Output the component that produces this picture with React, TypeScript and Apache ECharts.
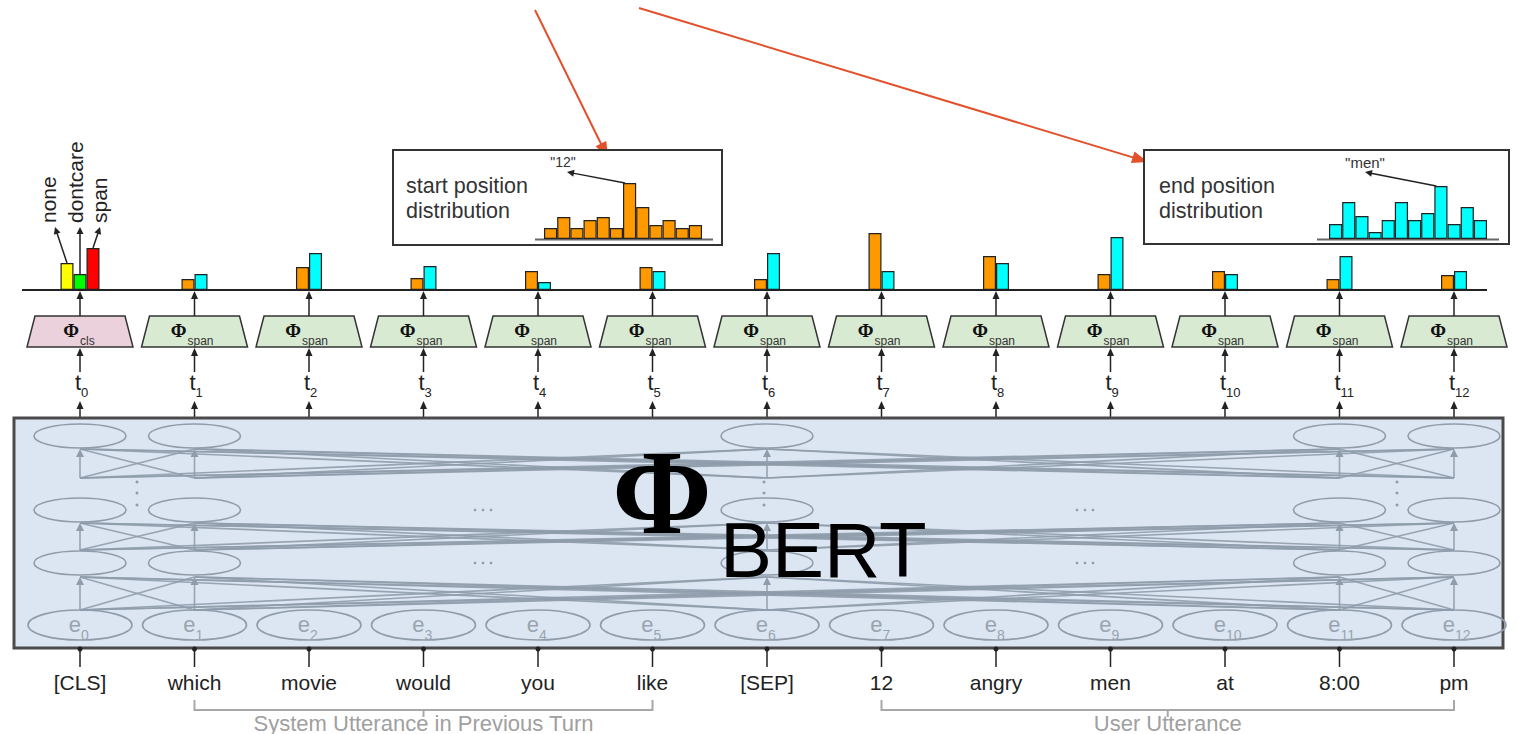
import React, { useEffect, useRef } from "react";
import * as echarts from "echarts";

// ---------------- data ----------------
const tokens = ["[CLS]", "which", "movie", "would", "you", "like", "[SEP]", "12", "angry", "men", "at", "8:00", "pm"];
const clsClasses = ["none", "dontcare", "span"];
const clsValues = [27, 16, 42];
const startProbs = [null, 11, 23, 12, 19, 23, 11, 57, 34, 16, 19, 11, 15];
const endProbs = [null, 16, 37, 24, 8, 19, 37, 19, 27, 53, 16, 34, 19];
const startDist = [11, 22, 11, 19, 22, 11, 56, 32, 14, 19, 11, 14];
const endDist = [15, 37, 23, 7, 19, 37, 19, 26, 53, 15, 32, 19];
const startPeakLabel = '"12"';
const endPeakLabel = '"men"';
const startBoxText = ["start position", "distribution"];
const endBoxText = ["end position", "distribution"];
const segments = [
  { label: "System Utterance in Previous Turn", from: 1, to: 5 },
  { label: "User Utterance", from: 7, to: 12 },
];
const shownColumns = [0, 1, 6, 11, 12];

// ---------------- layout / style ----------------
const W = 1519;
const H = 734;
const COL_LEFT = 22.75;
const COL_STEP = 114.5;
const cx = (i: number) => COL_LEFT + COL_STEP * (i + 0.5);
const BASE_Y = 290;
const BAR_AREA = 60;
const HIST_BASE = 239;
const HIST_W = 158;
const START_LEFT = 544;
const END_LEFT = 1329;
const SANS = "Liberation Sans, Arial, sans-serif";
const SERIF = "Liberation Serif, Times New Roman, serif";
const GRAY = "#8f9cab";
const RED = "#e2502c";

function arrow(x1: number, y1: number, x2: number, y2: number, color: string, width: number, len: number, half: number) {
  const dx = x2 - x1, dy = y2 - y1, L = Math.hypot(dx, dy);
  const ux = dx / L, uy = dy / L;
  const bx = x2 - ux * len, by = y2 - uy * len;
  return [
    { type: "line", silent: true, shape: { x1, y1, x2: bx + ux, y2: by + uy }, style: { stroke: color, lineWidth: width } },
    {
      type: "polygon",
      silent: true,
      shape: { points: [[x2, y2], [bx - uy * half, by + ux * half], [bx + uy * half, by - ux * half]] },
      style: { fill: color },
    },
  ];
}

function txt(text: string, x: number, y: number, size: number, o: any = {}) {
  const align = o.align || "center";
  return {
    type: "text",
    x,
    y,
    silent: true,
    rotation: o.rotation || 0,
    scaleX: o.scaleX || 1,
    style: {
      text,
      fontSize: size,
      fontFamily: o.family || SANS,
      fontWeight: o.weight || "normal",
      fill: o.color || "#222",
      align,
      textAlign: align,
      verticalAlign: "middle",
      textVerticalAlign: "middle",
    },
  };
}

function buildGraphics() {
  const g: any[] = [];
  // red pointer arrows at top
  g.push(...arrow(535, 10, 608, 158, RED, 2, 16, 6));
  g.push(...arrow(639, 8, 1148, 162, RED, 2, 16, 6));

  // distribution boxes
  g.push({ type: "rect", silent: true, shape: { x: 393, y: 150, width: 329, height: 95 }, style: { fill: "#fff", stroke: "#333", lineWidth: 2 } });
  g.push({ type: "rect", silent: true, shape: { x: 1144, y: 150, width: 365, height: 94 }, style: { fill: "#fff", stroke: "#333", lineWidth: 2 } });
  g.push(txt(startBoxText[0], 406, 186, 21.5, { align: "left", color: "#333" }));
  g.push(txt(startBoxText[1], 406, 211, 21.5, { align: "left", color: "#333" }));
  g.push(txt(endBoxText[0], 1159, 186, 21.5, { align: "left", color: "#333" }));
  g.push(txt(endBoxText[1], 1159, 211, 21.5, { align: "left", color: "#333" }));
  g.push({ type: "line", silent: true, shape: { x1: 535, y1: HIST_BASE + 0.5, x2: 713, y2: HIST_BASE + 0.5 }, style: { stroke: "#666", lineWidth: 2 } });
  g.push({ type: "line", silent: true, shape: { x1: 1317, y1: HIST_BASE + 0.5, x2: 1499, y2: HIST_BASE + 0.5 }, style: { stroke: "#666", lineWidth: 2 } });

  // peak pointers (derived from data)
  const bw = HIST_W / startDist.length;
  const sIdx = startDist.indexOf(Math.max(...startDist));
  const sx = START_LEFT + (sIdx + 0.15) * bw;
  const sy = HIST_BASE - startDist[sIdx] * (BAR_AREA / 60);
  g.push(...arrow(sx, sy, 567, 172, "#222", 1.5, 7, 3.5));
  g.push(txt(startPeakLabel, 563, 162, 14, { color: "#333" }));
  const eIdx = endDist.indexOf(Math.max(...endDist));
  const ex = END_LEFT + (eIdx + 0.15) * bw;
  const ey = HIST_BASE - endDist[eIdx] * (BAR_AREA / 60);
  g.push(...arrow(ex, ey, 1365, 172, "#222", 1.5, 7, 3.5));
  g.push(txt(endPeakLabel, 1365, 162, 15, { color: "#333" }));

  // main baseline
  g.push({ type: "line", silent: true, shape: { x1: 22, y1: BASE_Y, x2: 1487, y2: BASE_Y }, style: { stroke: "#222", lineWidth: 2 } });

  // CLS class labels + arrows
  const labelX = [48, 75, 99];
  const tipX = [55, 80, 100];
  clsClasses.forEach((c, k) => {
    const bx = cx(0) + (k - 1) * 13;
    const by = BASE_Y - clsValues[k];
    g.push(...arrow(bx, by, tipX[k], 227, "#222", 1.5, 7, 3.5));
    g.push(txt(c, labelX[k], 223, 21, { align: "left", rotation: Math.PI / 2, color: "#222" }));
  });

  // phi heads, arrows, t labels
  tokens.forEach((_, i) => {
    const x = cx(i);
    const isCls = i === 0;
    g.push({
      type: "polygon",
      silent: true,
      shape: { points: [[x - 45, 316], [x + 45, 316], [x + 53, 347], [x - 53, 347]] },
      style: { fill: isCls ? "#ead1dc" : "#d9ead3", stroke: "#333", lineWidth: 1.5 },
    });
    g.push(txt("Φ", isCls ? x - 9 : x - 16, 330, 19, { family: SERIF, weight: "bold", color: "#111" }));
    g.push(txt(isCls ? "cls" : "span", isCls ? x : x - 7, 341, 12, { align: "left", color: "#333" }));
    g.push(...arrow(x, 316, x, 291, "#222", 1.5, 8, 3.5));
    g.push(...arrow(x, 372, x, 348, "#222", 1.5, 8, 3.5));
    g.push(...arrow(x, 418, x, 401, "#222", 1.5, 8, 3.5));
    g.push(txt("t", x + 1, 382, 22, { align: "right", color: "#222" }));
    g.push(txt(String(i), x + 1, 392, 13, { align: "left", color: "#222" }));
  });

  // BERT box
  g.push({ type: "rect", silent: true, shape: { x: 14, y: 418, width: 1489, height: 230 }, style: { fill: "#dce6f2", stroke: "#4a4a4a", lineWidth: 3 } });

  // layer connections
  const layers = [
    { low: 610, high: 577 },
    { low: 550, high: 523 },
    { low: 478, high: 449 },
  ];
  layers.forEach((ly) => {
    shownColumns.forEach((a) => {
      shownColumns.forEach((b) => {
        g.push({
          type: "line",
          silent: true,
          shape: { x1: cx(a), y1: ly.low, x2: cx(b), y2: ly.high + (a === b ? 6 : 0) },
          style: { stroke: GRAY, lineWidth: 1.6, opacity: 0.9 },
        });
      });
    });
    shownColumns.forEach((b) => {
      g.push({ type: "polygon", silent: true, shape: { points: [[cx(b), ly.high], [cx(b) - 4, ly.high + 8], [cx(b) + 4, ly.high + 8]] }, style: { fill: GRAY } });
    });
  });

  // ellipses
  [436, 510, 563].forEach((y) => {
    shownColumns.forEach((c) => {
      g.push({ type: "ellipse", silent: true, shape: { cx: cx(c), cy: y, rx: 46, ry: 12 }, style: { fill: "none", stroke: GRAY, lineWidth: 1.6 } });
    });
  });
  tokens.forEach((_, i) => {
    g.push({ type: "ellipse", silent: true, shape: { cx: cx(i), cy: 625, rx: 52, ry: 15 }, style: { fill: "none", stroke: GRAY, lineWidth: 1.6 } });
    g.push(txt("e", cx(i) + 1, 624, 22, { align: "right", color: "#98a4b0" }));
    g.push(txt(String(i), cx(i) + 1, 635, 14, { align: "left", color: "#98a4b0" }));
  });

  // ellipsis dots
  [137, 764, 1397].forEach((x) => {
    [482, 493, 505].forEach((y) => g.push({ type: "circle", silent: true, shape: { cx: x, cy: y, r: 1.5 }, style: { fill: GRAY } }));
  });
  [510, 563].forEach((y) => {
    [483, 1085].forEach((x) => {
      [-8, 0, 8].forEach((d) => g.push({ type: "circle", silent: true, shape: { cx: x + d, cy: y, r: 1.3 }, style: { fill: GRAY } }));
    });
  });

  // Φ BERT title
  g.push(txt("Φ", 662, 492, 120, { family: SERIF, weight: "bold", color: "#000" }));
  g.push(txt("BERT", 720, 550, 78, { align: "left", color: "#000" }));

  // token ticks and labels
  tokens.forEach((t, i) => {
    const x = cx(i);
    g.push({ type: "line", silent: true, shape: { x1: x, y1: 649, x2: x, y2: 667 }, style: { stroke: "#222", lineWidth: 1.5 } });
    g.push({ type: "circle", silent: true, shape: { cx: x, cy: 649, r: 2.5 }, style: { fill: "#222" } });
    g.push(txt(t, x, 682, 21, { color: "#222" }));
  });

  // brackets
  segments.forEach((s) => {
    const x1 = cx(s.from), x2 = cx(s.to), mid = (x1 + x2) / 2;
    g.push({ type: "polyline", silent: true, shape: { points: [[x1, 700], [x1, 710], [x2, 710], [x2, 700]] }, style: { stroke: "#a8a8a8", lineWidth: 2, fill: "none" } });
    g.push({ type: "line", silent: true, shape: { x1: mid, y1: 710, x2: mid, y2: 717 }, style: { stroke: "#a8a8a8", lineWidth: 2 } });
    g.push(txt(s.label, mid, 723, 22, { color: "#a0a0a0" }));
  });
  return g;
}

function buildOption(): any {
  const histCats = startDist.map((_, i) => String(i + 1));
  const barStyle = (color: string) => ({ color, borderColor: "#222", borderWidth: 1.2 });
  const clsColors = ["#ffff00", "#00ff00", "#ff0000"];
  return {
    animation: false,
    backgroundColor: "#fff",
    grid: [
      { left: COL_LEFT, width: COL_STEP * tokens.length, top: BASE_Y - BAR_AREA, height: BAR_AREA },
      { left: START_LEFT, width: HIST_W, top: HIST_BASE - BAR_AREA, height: BAR_AREA },
      { left: END_LEFT, width: HIST_W, top: HIST_BASE - BAR_AREA, height: BAR_AREA },
    ],
    xAxis: [
      { type: "category", gridIndex: 0, data: tokens, show: false },
      { type: "category", gridIndex: 0, data: tokens, show: false },
      { type: "category", gridIndex: 1, data: histCats, show: false },
      { type: "category", gridIndex: 2, data: histCats, show: false },
    ],
    yAxis: [
      { type: "value", gridIndex: 0, min: 0, max: 60, show: false },
      { type: "value", gridIndex: 1, min: 0, max: 60, show: false },
      { type: "value", gridIndex: 2, min: 0, max: 60, show: false },
    ],
    series: [
      { name: "start", type: "bar", xAxisIndex: 0, yAxisIndex: 0, data: startProbs, barWidth: 13, barGap: "0%", itemStyle: barStyle("#ff9900"), silent: true },
      { name: "end", type: "bar", xAxisIndex: 0, yAxisIndex: 0, data: endProbs, barWidth: 13, barGap: "0%", itemStyle: barStyle("#00ffff"), silent: true },
      ...clsClasses.map((c, k) => ({
        name: c,
        type: "bar",
        xAxisIndex: 1,
        yAxisIndex: 0,
        data: tokens.map((_, i) => (i === 0 ? clsValues[k] : null)),
        barWidth: 13,
        barGap: "0%",
        itemStyle: barStyle(clsColors[k]),
        silent: true,
      })),
      { name: "start dist", type: "bar", xAxisIndex: 2, yAxisIndex: 1, data: startDist, barCategoryGap: "0%", itemStyle: barStyle("#ff9900"), silent: true },
      { name: "end dist", type: "bar", xAxisIndex: 3, yAxisIndex: 2, data: endDist, barCategoryGap: "0%", itemStyle: barStyle("#00ffff"), silent: true },
    ],
    graphic: { elements: buildGraphics() },
  };
}

export default function App() {
  const ref = useRef<HTMLDivElement>(null);
  useEffect(() => {
    const chart = echarts.init(ref.current as HTMLDivElement, null, { renderer: "svg" });
    chart.setOption(buildOption());
    return () => chart.dispose();
  }, []);
  return <div ref={ref} style={{ position: "fixed", left: 0, top: 0, width: W, height: H, background: "#fff" }} />;
}
